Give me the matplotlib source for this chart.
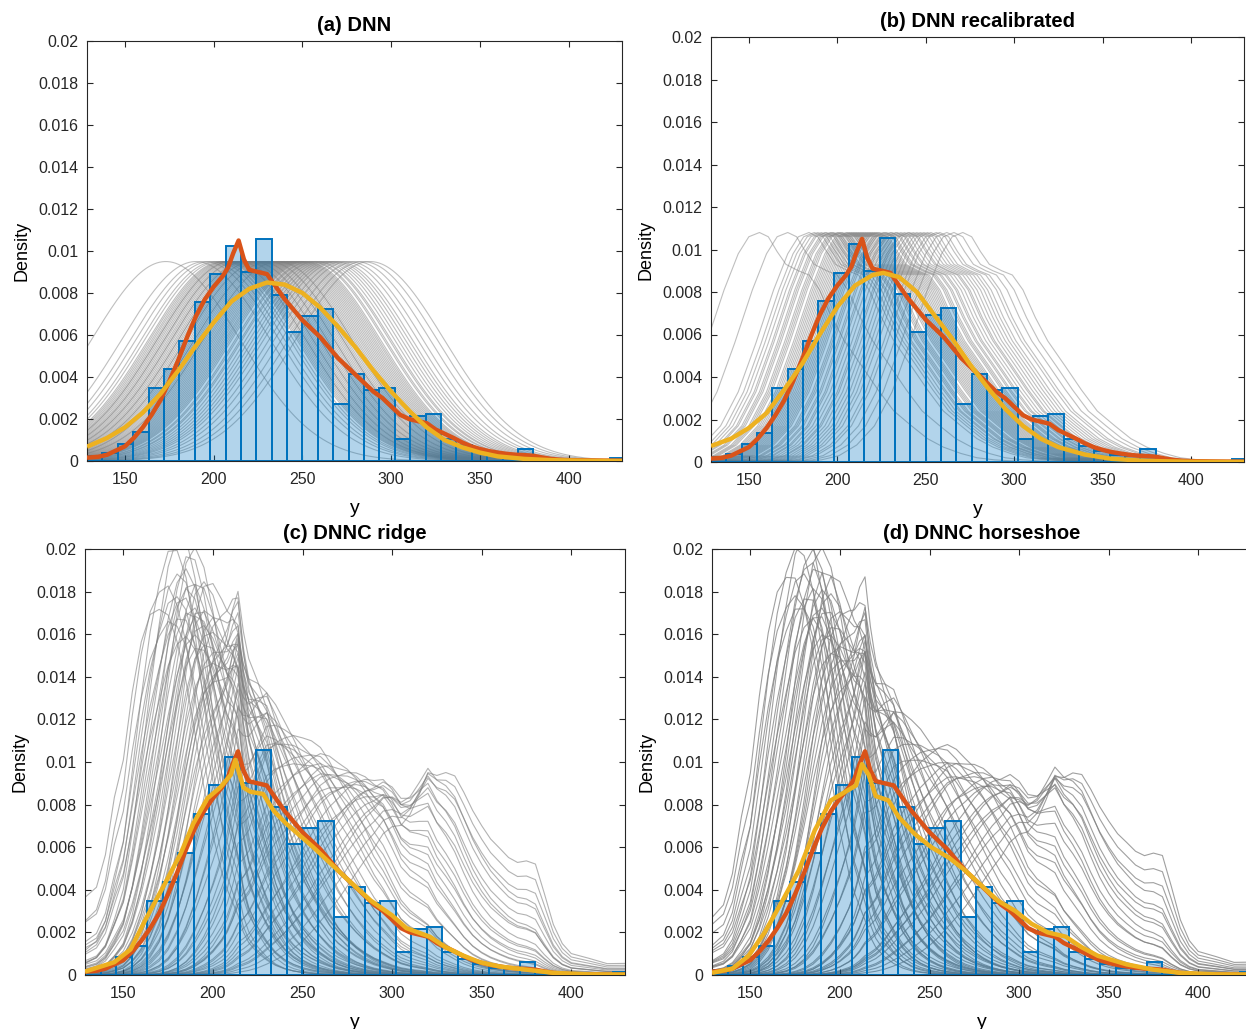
import math
import numpy as np
import matplotlib
matplotlib.use("Agg")
import matplotlib.pyplot as plt
from matplotlib.ticker import FuncFormatter

plt.rcParams['font.family'] = ['Liberation Sans', 'DejaVu Sans']

# ---- histogram of y (pdf normalisation), same in all panels
hist_start = 128.6
hist_width = 8.67
hist_heights = [0.00022, 0.0004, 0.00083, 0.00138, 0.00348, 0.00437, 0.00571, 0.00758,
                0.0089, 0.01024, 0.00901, 0.01056, 0.0079, 0.00614, 0.00692, 0.00723,
                0.00273, 0.00413, 0.0034, 0.00348, 0.00107, 0.00215, 0.00226, 0.00107,
                0.00075, 0.0005, 0.00035, 0.00027, 0.00059, 0.00012, 0.0, 0.0, 0.0, 0.0,
                0.00012]

# ---- kernel density of y (red line), same in all panels
kde_x = [128.6, 135, 140, 145, 150, 155, 160, 165, 170, 175, 180, 185, 190, 195, 200,
         205, 208, 211, 214, 217, 220, 225, 230, 235, 240, 245, 250, 255, 260, 265, 270,
         275, 280, 285, 290, 295, 300, 305, 310, 315, 320, 325, 330, 335, 340, 345, 350,
         355, 360, 365, 370, 375, 380, 385, 390, 395, 400, 410, 420, 430]
kde_y = [0.00016, 0.0002, 0.0003, 0.0005, 0.0007, 0.0011, 0.0016, 0.0022, 0.0029, 0.0038,
         0.0048, 0.0059, 0.0069, 0.0077, 0.0083, 0.0088, 0.0092, 0.0099, 0.0105, 0.0096,
         0.0091, 0.0090, 0.0089, 0.0083, 0.0077, 0.0072, 0.0067, 0.0063, 0.0059, 0.0054,
         0.0049, 0.0045, 0.0041, 0.0037, 0.0033, 0.0030, 0.0026, 0.0022, 0.0020, 0.0019,
         0.0018, 0.0015, 0.0013, 0.0011, 0.00088, 0.0007, 0.00057, 0.00047, 0.0004,
         0.00034, 0.0003, 0.00028, 0.00025, 0.00017, 0.0001, 0.00006, 0.00004, 0.00003,
         0.00002, 0.00002]

# ---- average predictive density (yellow line) per panel
avg_a_x = [128.6, 140, 150, 160, 170, 180, 190, 200, 210, 220, 230, 240, 250, 260, 270,
           280, 290, 300, 310, 320, 330, 340, 350, 360, 375, 390, 410, 430]
avg_a_y = [0.00068, 0.0011, 0.0016, 0.0023, 0.0032, 0.0043, 0.0055, 0.0066, 0.0076,
           0.0082, 0.0085, 0.0084, 0.0080, 0.0073, 0.0064, 0.0054, 0.0043, 0.0033, 0.0024,
           0.0016, 0.0010, 0.00065, 0.0004, 0.00022, 0.0001, 0.00004, 0.00001, 0.0]

avg_b_x = [128.6, 140, 150, 160, 170, 180, 190, 200, 210, 220, 226, 235, 245, 255, 265,
           275, 285, 295, 305, 315, 325, 340, 355, 375, 400, 430]
avg_b_y = [0.00075, 0.0011, 0.0016, 0.0023, 0.0034, 0.0046, 0.006, 0.0073, 0.0083, 0.0088,
           0.0089, 0.0087, 0.0080, 0.0069, 0.0058, 0.0046, 0.0035, 0.0025, 0.0017, 0.0011,
           0.0007, 0.00035, 0.00015, 0.00005, 0.00001, 0.0]

avg_c_x = [128.6, 145, 154, 163, 172, 182, 189, 197, 204, 210, 212.5, 217, 221, 228, 234,
           241, 256, 275, 288, 300, 308, 321, 330, 340, 349, 360, 375, 390, 410, 430]
avg_c_y = [0.00016, 0.0006, 0.0012, 0.0027, 0.0041, 0.0057, 0.0071, 0.0083, 0.0088,
           0.0094, 0.0101, 0.0088, 0.0086, 0.0085, 0.0077, 0.0071, 0.006, 0.0045, 0.0035,
           0.0028, 0.0022, 0.0018, 0.0013, 0.0009, 0.0006, 0.0004, 0.00025, 0.0001,
           0.00003, 0.00002]

avg_d_x = [128.6, 140, 149, 158, 168, 177, 186, 195, 203, 209, 212.3, 216, 220, 227, 233,
           242, 251, 261, 270, 279, 288, 298, 307, 316, 326, 335, 344, 360, 375, 390, 410,
           430]
avg_d_y = [0.0001, 0.0003, 0.0009, 0.002, 0.0035, 0.0049, 0.0068, 0.0082, 0.0086,
           0.0089, 0.0099, 0.0094, 0.0084, 0.0082, 0.0074, 0.0066, 0.006, 0.0055, 0.0049,
           0.0042, 0.0035, 0.003, 0.0024, 0.002, 0.0018, 0.0013, 0.0009, 0.0005, 0.00025,
           0.0001, 0.00003, 0.00002]

# ---- individual predictive densities (grey lines)
# (a) DNN: gaussian densities, common sd, centres
dnn_sd = 42.0
dnn_means = [173, 190, 195, 198, 201, 203, 205, 206, 207, 208, 209, 210, 210, 211, 212,
             213, 214, 214, 215, 216, 217, 218, 218, 219, 220, 221, 222, 222, 223, 224,
             225, 226, 226, 227, 228, 229, 230, 231, 231, 232, 233, 234, 235, 236, 236,
             237, 238, 239, 240, 241, 242, 243, 244, 245, 246, 247, 248, 249, 250, 251,
             252, 254, 255, 257, 258, 260, 262, 264, 266, 268, 270, 273, 276, 280, 284,
             288]

# (b) recalibrated: one shape (offset from the mode) shifted to each mode
recal_offset = [-100, -90, -80, -70, -60, -50, -40, -30, -20, -12, -6, 0, 5, 10, 15, 22,
                28, 34, 41, 48, 58, 67, 76, 86, 95, 104, 114, 123, 133, 150, 170]
recal_dens = [0.000005, 0.00003, 0.0001, 0.0003, 0.0008, 0.0017, 0.0033, 0.0056, 0.0081,
              0.0098, 0.0106, 0.0108, 0.0106, 0.0099, 0.0093, 0.0090, 0.0088, 0.0081,
              0.0068, 0.0057, 0.0045, 0.0034, 0.0024, 0.0017, 0.0011, 0.0007, 0.0004,
              0.0002, 0.0001, 0.00002, 0.0]
recal_modes = [156, 172, 184, 187, 189, 191, 193, 194, 196, 197, 198, 200, 201, 202, 203,
               205, 206, 207, 208, 209, 210, 211, 212, 213, 214, 215, 216, 217, 218, 219,
               220, 221, 222, 223, 224, 226, 227, 228, 230, 231, 233, 234, 236, 238, 240,
               241, 243, 245, 247, 249, 251, 253, 256, 258, 262, 266, 271]

# (c), (d) copula models: kde margin times gaussian copula term,
# (location, scale) on the normal scale for each draw
ridge_curves = [(-1.7, 0.72), (-1.6, 0.68), (-1.5, 0.75), (-1.45, 0.62), (-1.4, 0.7),
                (-1.35, 0.66), (-1.3, 0.74), (-1.3, 0.6), (-1.25, 0.7), (-1.2, 0.65),
                (-1.2, 0.78), (-1.15, 0.68), (-1.1, 0.62), (-1.1, 0.72), (-1.05, 0.66),
                (-1.0, 0.7), (-1.0, 0.6), (-0.95, 0.75), (-0.9, 0.64), (-0.9, 0.7),
                (-0.85, 0.68), (-0.85, 0.76), (-0.8, 0.62), (-0.8, 0.7), (-0.75, 0.66),
                (-0.7, 0.72), (-0.7, 0.6), (-0.65, 0.68), (-0.6, 0.64), (-0.6, 0.74),
                (-0.55, 0.7), (-0.5, 0.62), (-0.5, 0.76), (-0.45, 0.68), (-0.45, 0.72),
                (-0.4, 0.64), (-0.4, 0.7), (-0.35, 0.66), (-0.3, 0.74), (-0.3, 0.62),
                (-0.25, 0.7), (-0.2, 0.68), (-0.15, 0.72), (-0.1, 0.66), (-0.05, 0.7),
                (0.0, 0.74), (0.05, 0.68), (0.1, 0.72), (0.15, 0.66), (0.2, 0.7),
                (0.3, 0.74), (0.35, 0.68), (0.4, 0.72), (0.45, 0.7), (0.5, 0.66),
                (0.55, 0.74), (0.6, 0.7), (0.7, 0.72), (0.75, 0.68), (0.8, 0.74),
                (0.85, 0.7), (0.9, 0.72), (0.95, 0.76), (1.0, 0.7), (1.05, 0.74),
                (1.1, 0.72), (1.2, 0.7), (1.25, 0.76), (1.3, 0.72), (1.35, 0.7),
                (1.4, 0.74), (1.5, 0.72), (1.55, 0.7), (1.6, 0.74), (1.7, 0.72),
                (1.8, 0.7)]
horse_curves = [(-1.65, 0.66), (-1.55, 0.7), (-1.5, 0.62), (-1.45, 0.72), (-1.4, 0.66),
                (-1.35, 0.6), (-1.3, 0.7), (-1.25, 0.64), (-1.2, 0.74), (-1.2, 0.62),
                (-1.15, 0.68), (-1.1, 0.64), (-1.05, 0.72), (-1.0, 0.6), (-1.0, 0.7),
                (-0.95, 0.66), (-0.9, 0.74), (-0.9, 0.62), (-0.85, 0.68), (-0.8, 0.64),
                (-0.8, 0.72), (-0.75, 0.6), (-0.7, 0.68), (-0.7, 0.74), (-0.65, 0.64),
                (-0.6, 0.7), (-0.55, 0.62), (-0.55, 0.72), (-0.5, 0.66), (-0.45, 0.7),
                (-0.4, 0.6), (-0.4, 0.74), (-0.35, 0.66), (-0.3, 0.7), (-0.25, 0.64),
                (-0.2, 0.72), (-0.15, 0.68), (-0.1, 0.74), (-0.05, 0.66), (0.0, 0.72),
                (0.1, 0.68), (0.15, 0.74), (0.2, 0.7), (0.3, 0.66), (0.35, 0.72),
                (0.45, 0.7), (0.5, 0.74), (0.6, 0.68), (0.65, 0.72), (0.7, 0.66),
                (0.8, 0.7), (0.85, 0.74), (0.9, 0.68), (0.95, 0.72), (1.0, 0.7),
                (1.1, 0.74), (1.15, 0.7), (1.2, 0.72), (1.3, 0.68), (1.35, 0.72),
                (1.4, 0.7), (1.45, 0.74), (1.5, 0.72), (1.6, 0.7), (1.65, 0.74),
                (1.75, 0.72), (1.85, 0.7)]

titles = ['(a) DNN', '(b) DNN recalibrated', '(c) DNNC ridge', '(d) DNNC horseshoe']

BLUE = (0, 0.447, 0.741)
RED = (0.85, 0.325, 0.098)
YELLOW = (0.929, 0.694, 0.125)
GREY = (0.5, 0.5, 0.5)

# normal helpers
def npdf(z):
    return np.exp(-0.5 * z ** 2) / math.sqrt(2 * math.pi)

zz = np.linspace(-6, 6, 24001)
FF = 0.5 * (1 + np.vectorize(math.erf)(zz / math.sqrt(2)))

kx = np.array(kde_x)
ky = np.array(kde_y)
cum = np.concatenate([[0], np.cumsum(0.5 * (ky[1:] + ky[:-1]) * np.diff(kx))])
u = (cum + 0.002) / (cum[-1] + 0.004)
zk = np.interp(u, FF, zz)

fig = plt.figure(figsize=(12.46, 10.29), dpi=100)
W, H = 1246, 1029
boxes = [(87, 41, 622, 461), (711, 37, 1244, 462), (85, 549, 625, 975), (712, 549, 1252, 975)]
axes = []
for (l, t, r, b) in boxes:
    axes.append(fig.add_axes([l / W, (H - b) / H, (r - l) / W, (b - t) / H]))

xg = np.linspace(128.6, 430, 400)

# (a)
ax = axes[0]
for m in dnn_means:
    ax.plot(xg, npdf((xg - m) / dnn_sd) / dnn_sd, color=GREY, lw=0.8, alpha=0.5, zorder=1)

# (b)
ax = axes[1]
for m in recal_modes:
    ax.plot(np.array(recal_offset) + m, recal_dens, color=GREY, lw=0.8, alpha=0.5, zorder=1)

# (c), (d)
for ax, curves, al in [(axes[2], ridge_curves, 0.6), (axes[3], horse_curves, 0.75)]:
    for mu, s in curves:
        dens = ky * npdf((zk - mu) / s) / (s * npdf(zk))
        ax.plot(kx, dens, color=GREY, lw=0.8, alpha=al, zorder=1)

avgs = [(avg_a_x, avg_a_y), (avg_b_x, avg_b_y), (avg_c_x, avg_c_y), (avg_d_x, avg_d_y)]
for i, ax in enumerate(axes):
    left_edges = hist_start + hist_width * np.arange(len(hist_heights))
    ax.bar(left_edges, hist_heights, width=hist_width, align='edge',
           facecolor=BLUE + (0.3,), edgecolor=BLUE, linewidth=1.4, zorder=2)
    ax.plot(kde_x, kde_y, color=RED, lw=3.2, zorder=3, solid_capstyle='butt')
    ax.plot(avgs[i][0], avgs[i][1], color=YELLOW, lw=3.2, zorder=4, solid_capstyle='butt')

    ax.set_xlim(128.6, 430)
    ax.set_ylim(0, 0.02)
    ax.set_xticks([150, 200, 250, 300, 350, 400])
    ax.set_yticks([0, 0.002, 0.004, 0.006, 0.008, 0.01, 0.012, 0.014, 0.016, 0.018, 0.02])
    ax.yaxis.set_major_formatter(FuncFormatter(lambda v, p: '0' if abs(v) < 1e-12 else '%g' % v))
    ax.tick_params(direction='in', top=True, right=True, length=4, width=0.8,
                   labelsize=11.5, colors=(0.15, 0.15, 0.15))
    ax.tick_params(axis='x', pad=8)
    ax.tick_params(axis='y', pad=6)
    for sp in ax.spines.values():
        sp.set_color((0.15, 0.15, 0.15))
        sp.set_linewidth(0.8)
    ax.set_title(titles[i], fontsize=14.5, fontweight='bold', pad=7)
    ax.set_xlabel('y', fontsize=14, labelpad=9)
    ax.set_ylabel('Density', fontsize=13, labelpad=6)

fig.savefig('out.png', dpi=100)
